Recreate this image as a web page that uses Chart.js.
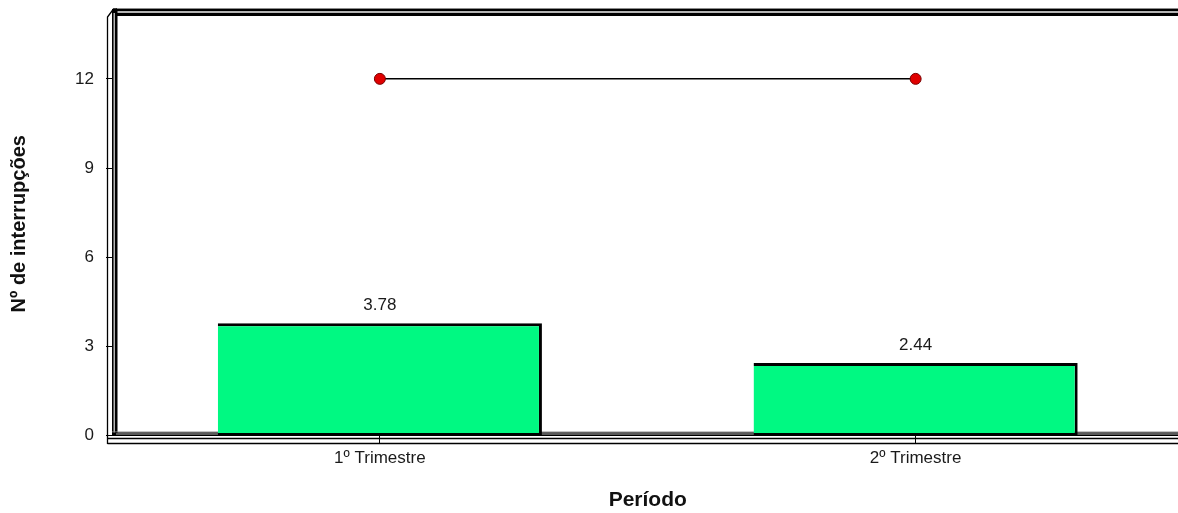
<!DOCTYPE html>
<html>
<head>
<meta charset="utf-8">
<script src="https://cdn.jsdelivr.net/npm/chart.js@4"></script>
<style>
  html, body { margin: 0; padding: 0; background: #fff; overflow: hidden; }
  #wrap { width: 1190px; height: 513px; }
</style>
</head>
<body>
<div id="wrap"><canvas id="c" width="1190" height="513"></canvas></div>
<script>
// Interruptions per quarter, with the target line
const categories = ['1º Trimestre', '2º Trimestre'];
const interrupcoes = [3.78, 2.44];
const meta = [12, 12];
const yTickValues = [0, 3, 6, 9, 12];
const yMax = 14.25;

const FONT = "'Liberation Sans', Arial, sans-serif";

// Pseudo-3D frame: back wall bands, left side wall and front floor edge
const frame3d = {
  id: 'frame3d',
  beforeDatasetsDraw(chart) {
    const { ctx, chartArea: a, width } = chart;
    const L = a.left, T = a.top, B = a.bottom;
    ctx.save();
    // back wall top band
    ctx.fillStyle = '#000'; ctx.fillRect(L + 4, T - 3, width, 7);
    ctx.fillStyle = '#8c8c8c'; ctx.fillRect(L + 4, T - 4, width, 1);
    ctx.fillStyle = '#b4b4b4'; ctx.fillRect(L + 4, T - 1, width, 2);
    // back wall left band
    ctx.fillStyle = '#000'; ctx.fillRect(L, T - 3, 5.5, B - T + 3);
    ctx.fillStyle = '#b4b4b4'; ctx.fillRect(L + 1.5, T + 1, 1.5, B - T - 1);
    // back floor band
    ctx.fillStyle = '#8c8c8c'; ctx.fillRect(L, B - 4, width, 1);
    ctx.fillStyle = '#000'; ctx.fillRect(L, B - 3, width, 3.5);
    ctx.fillStyle = '#b4b4b4'; ctx.fillRect(L + 4, B - 2, width, 1);
    // front side wall edge and top-left bevel
    ctx.strokeStyle = '#000'; ctx.lineWidth = 1.3;
    ctx.beginPath();
    ctx.moveTo(L - 4.5, B + 8.5);
    ctx.lineTo(L - 4.5, T + 5);
    ctx.lineTo(L + 1.5, T - 3);
    ctx.lineTo(L + 5, T - 3);
    ctx.stroke();
    // front floor edge
    ctx.lineWidth = 1.5;
    ctx.beginPath();
    ctx.moveTo(L - 4.5, B + 3); ctx.lineTo(width, B + 3);
    ctx.moveTo(L - 4.5, B + 8); ctx.lineTo(width, B + 8);
    ctx.stroke();
    ctx.restore();
  }
};

// Value printed above each bar
const barValues = {
  id: 'barValues',
  afterDatasetsDraw(chart) {
    const { ctx } = chart;
    const meta0 = chart.getDatasetMeta(0);
    ctx.save();
    ctx.font = '17px ' + FONT;
    ctx.fillStyle = '#1a1a1a';
    ctx.textAlign = 'center';
    ctx.textBaseline = 'bottom';
    meta0.data.forEach((bar, i) => {
      ctx.fillText(interrupcoes[i].toFixed(2), bar.x, bar.y - 9);
    });
    ctx.restore();
  }
};

new Chart(document.getElementById('c'), {
  type: 'bar',
  data: {
    labels: categories,
    datasets: [
      {
        type: 'bar',
        data: interrupcoes,
        backgroundColor: '#00f982',
        borderColor: '#000',
        borderWidth: { top: 3, right: 3, bottom: 2, left: 0 },
        borderSkipped: false,
        barPercentage: 0.605,
        categoryPercentage: 1,
        order: 2
      },
      {
        type: 'line',
        data: meta,
        borderColor: '#000',
        borderWidth: 1.5,
        pointRadius: 5.5,
        pointBackgroundColor: '#e00000',
        pointBorderColor: '#7a0000',
        pointBorderWidth: 1,
        order: 1
      }
    ]
  },
  options: {
    responsive: false,
    animation: false,
    layout: { padding: { top: 12, right: 0, left: 0, bottom: 0 } },
    plugins: { legend: { display: false }, tooltip: { enabled: false } },
    scales: {
      x: {
        offset: true,
        afterFit(s) { s.height = 77.5; s.paddingLeft = 0; s.paddingRight = 0; },
        grid: { drawOnChartArea: false, drawTicks: true, tickLength: 8, color: '#000', offset: false },
        border: { display: false },
        ticks: { color: '#1a1a1a', font: { family: FONT, size: 17 }, padding: 5 },
        title: {
          display: true, text: 'Período', color: '#111',
          font: { family: FONT, size: 21, weight: 'bold' },
          padding: { top: 0, bottom: 0 }
        }
      },
      y: {
        min: 0, max: yMax,
        afterFit(s) { s.width = 112; s.paddingTop = 0; s.paddingBottom = 0; },
        afterBuildTicks(s) { s.ticks = yTickValues.map(v => ({ value: v })); },
        grid: { drawOnChartArea: false, drawTicks: true, tickLength: 6, color: '#000' },
        border: { display: false },
        ticks: { color: '#1a1a1a', font: { family: FONT, size: 17 }, padding: 12 },
        title: {
          display: true, text: 'Nº de interrupções', color: '#111',
          font: { family: FONT, size: 20, weight: 'bold' },
          padding: { top: 7, bottom: 0 }
        }
      }
    }
  },
  plugins: [frame3d, barValues]
});
</script>
</body>
</html>
